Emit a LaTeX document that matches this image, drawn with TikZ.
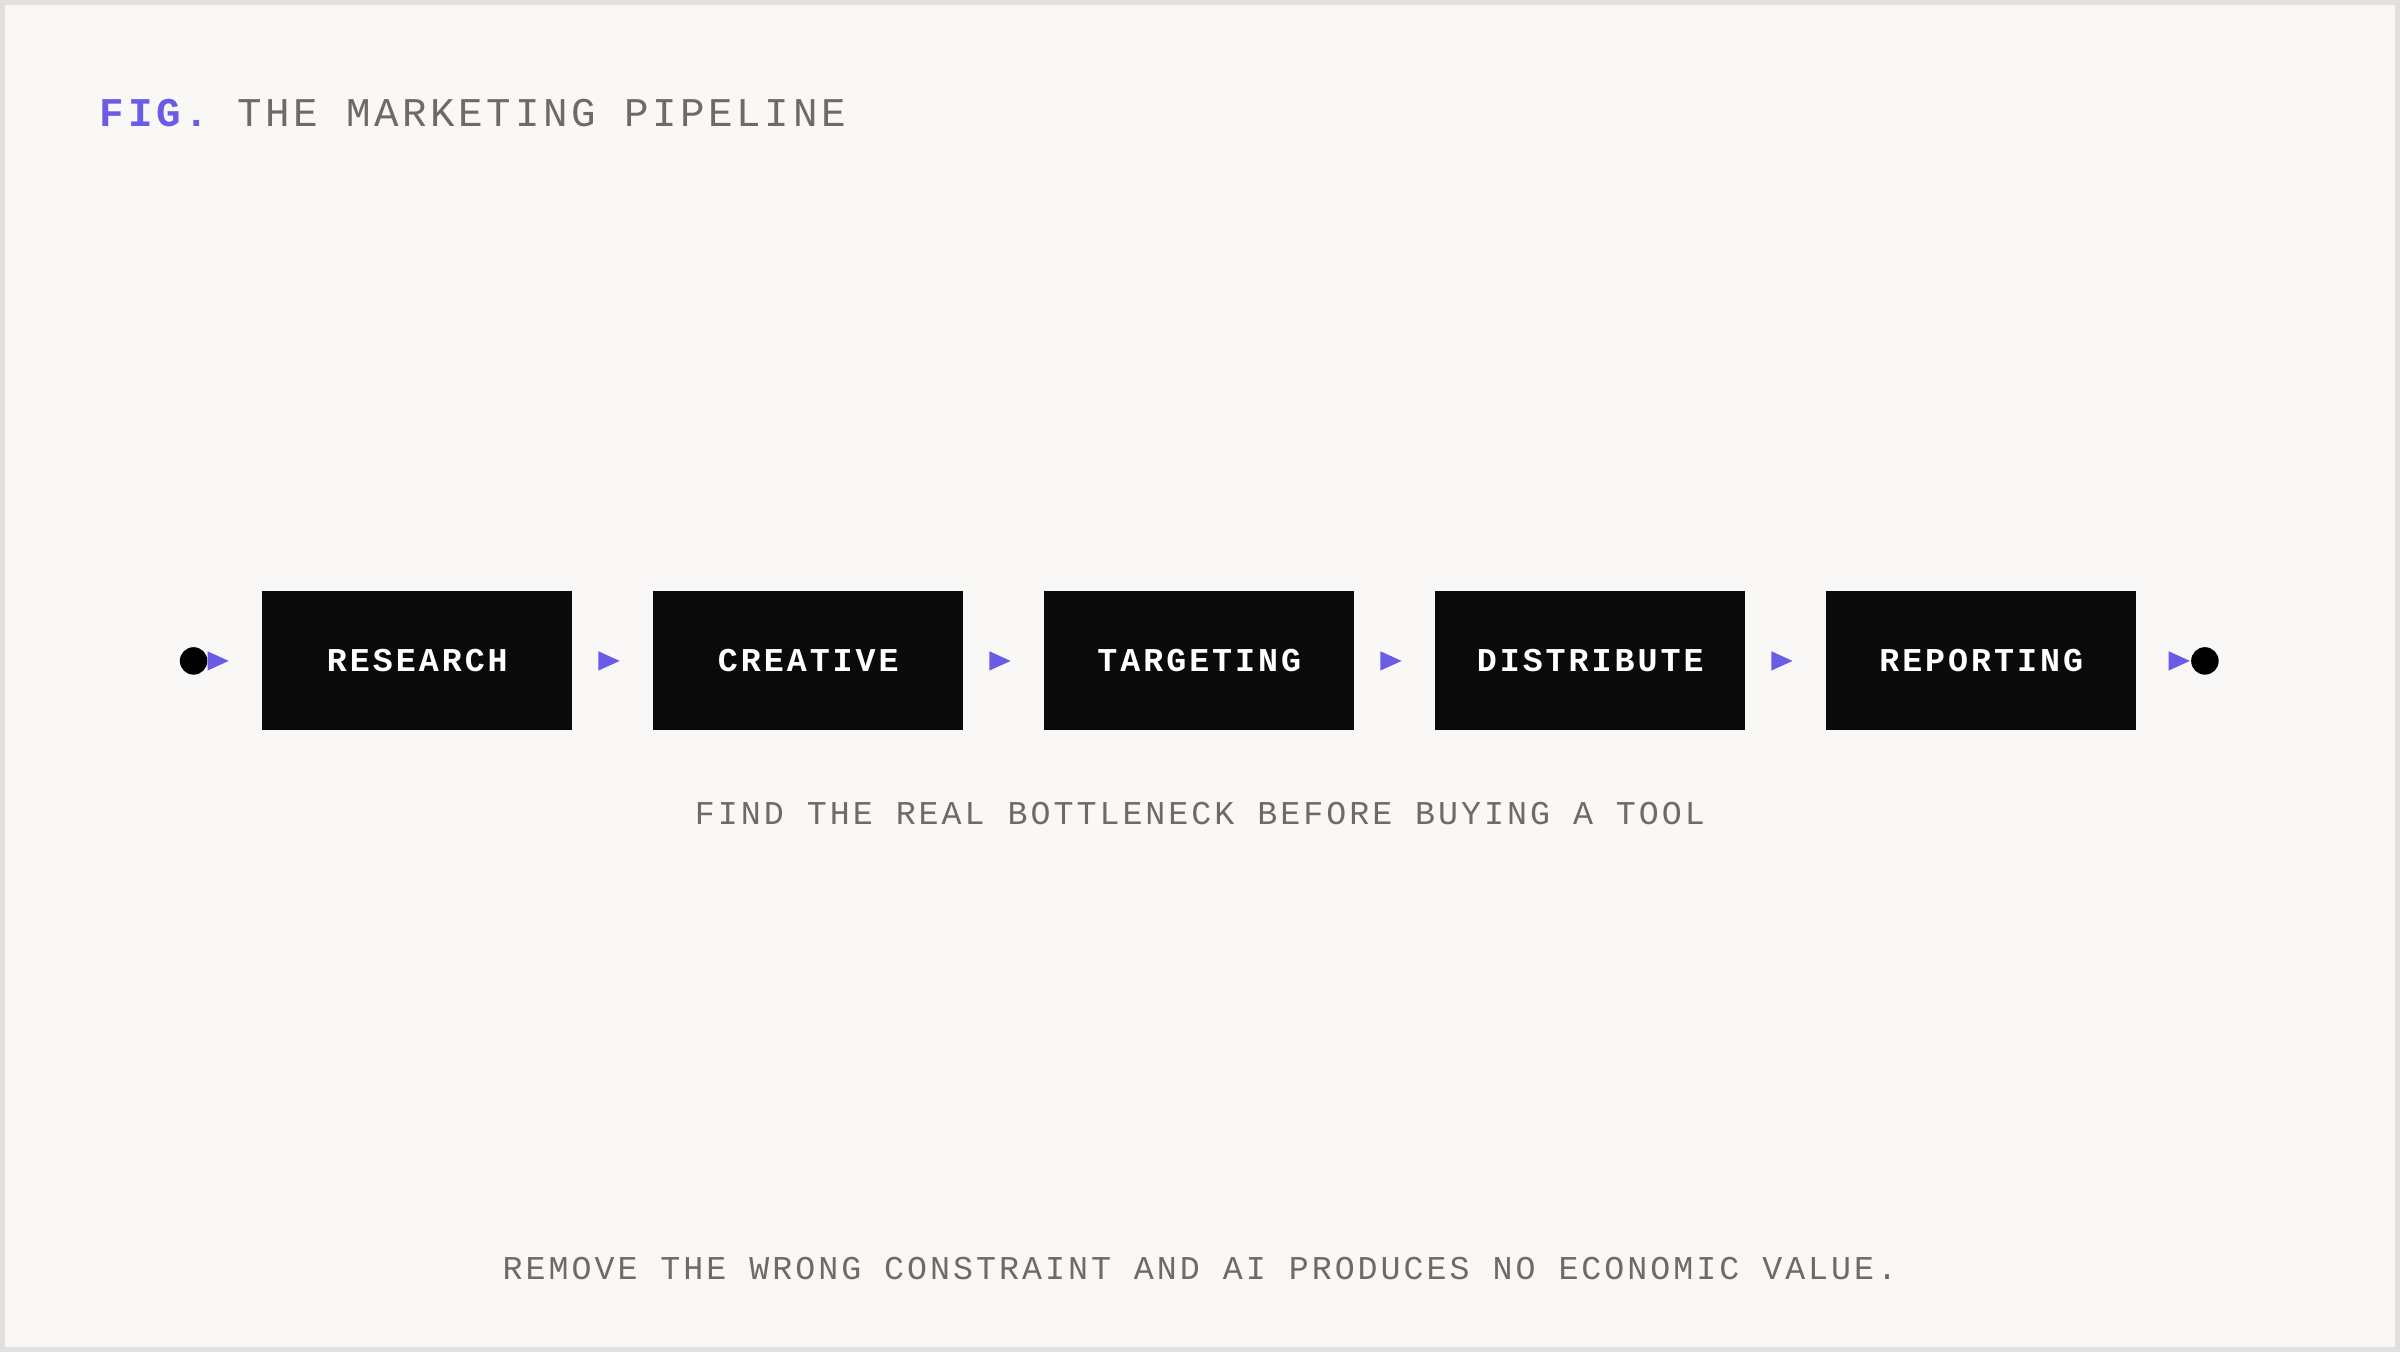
\documentclass[tikz,border=0pt]{standalone}
\usepackage{fontspec}
\setmonofont{Liberation Mono}
\newfontfamily\stagefont[LetterSpace=9]{Liberation Mono}
\newfontfamily\titlefont[LetterSpace=9]{Liberation Mono}
\usetikzlibrary{arrows.meta, positioning}
\definecolor{paper}{HTML}{F9F8F6}
\definecolor{edgegray}{HTML}{E2E1DF}
\definecolor{inkgray}{HTML}{6E6A66}
\definecolor{accentpurple}{HTML}{6B5CE7}
\definecolor{boxblack}{HTML}{0A0A0A}
\tikzset{
  stagebox/.style={fill=boxblack, text=white, minimum width=2.03cm, minimum height=0.91cm, inner sep=0pt, font=\stagefont\fontsize{6.2}{7}\selectfont\bfseries},
  flow/.style={line width=0.6pt, -{Triangle[length=0.14cm, width=0.12cm, color=accentpurple, fill=accentpurple]}},
  endpoint/.style={circle, fill=black, inner sep=0pt, minimum size=0.18cm},
  caption/.style={text=inkgray, font=\stagefont\fontsize{6.2}{7}\selectfont}
}
\begin{document}
\begin{tikzpicture}[x=0.01cm, y=-0.01cm]
    % Page
    \draw[edgegray, fill=paper, line width=1pt] (0,0) rectangle (1568,882);
    \useasboundingbox (0,0) rectangle (1568,882);

    % Title
    \node[anchor=west, inner sep=0pt, font=\titlefont\fontsize{7.6}{9}\selectfont] (title) at (63,72)
        {\textcolor{accentpurple}{\bfseries FIG.} \textcolor{inkgray}{THE MARKETING PIPELINE}};

    % Stages
    \foreach \name [count=\i] in {RESEARCH, CREATIVE, TARGETING, DISTRIBUTE, REPORTING}
        \node[stagebox] (s\i) at ({271.5+(\i-1)*256},431) {\name};

    % Ends
    \node[endpoint] (start) at (125,431) {};
    \node[endpoint] (stop) at (1442,431) {};

    % Flow
    \draw[flow] (start) -- ([xshift=-6]s1.west);
    \foreach \i/\j in {1/2, 2/3, 3/4, 4/5}
        \draw[flow] ([xshift=6]s\i.east) -- ([xshift=-6]s\j.west);
    \draw[flow] ([xshift=6]s5.east) -- (stop);

    % Captions
    \node[caption] (note) at (784,531) {FIND THE REAL BOTTLENECK BEFORE BUYING A TOOL};
    \node[caption] (footer) at (784,829) {REMOVE THE WRONG CONSTRAINT AND AI PRODUCES NO ECONOMIC VALUE.};
\end{tikzpicture}
\end{document}
